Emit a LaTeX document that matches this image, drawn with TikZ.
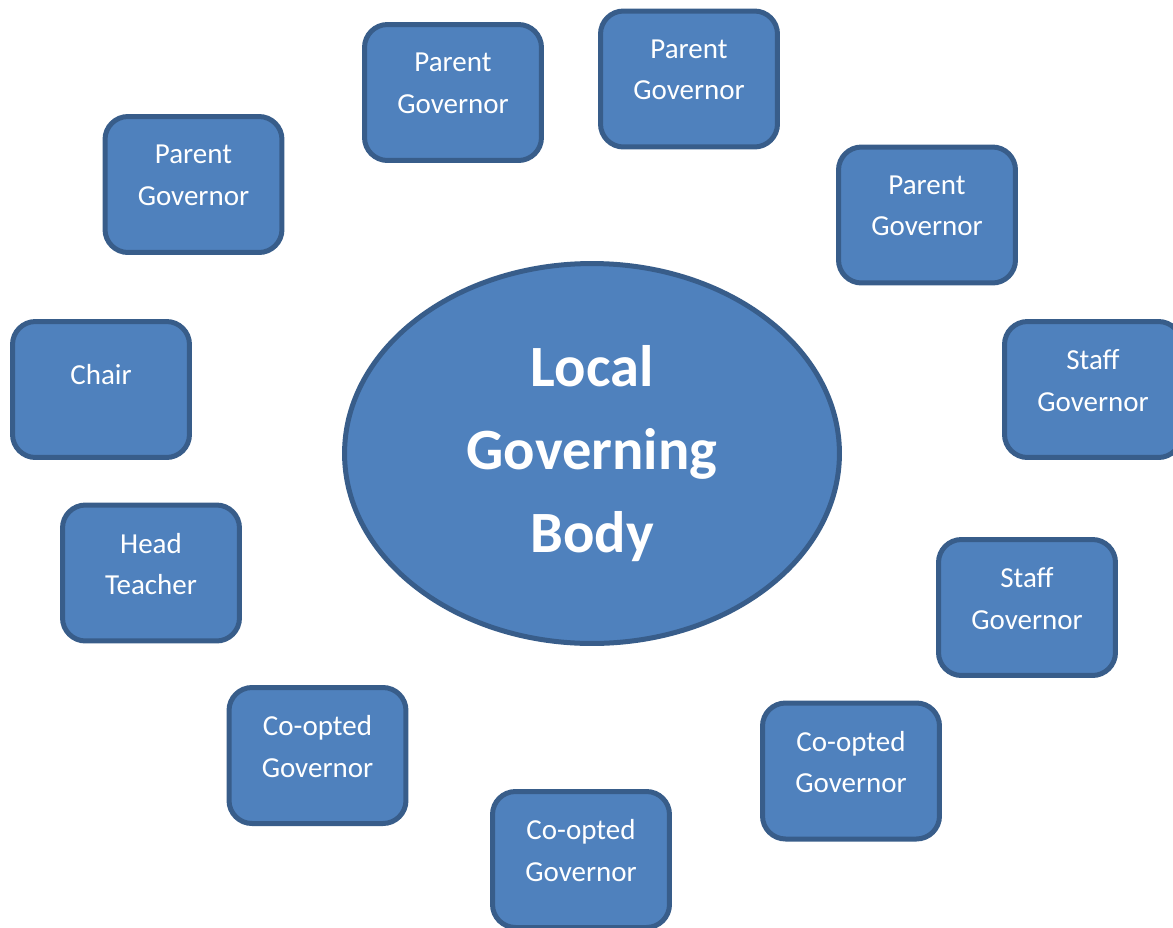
\documentclass[tikz,border=0pt]{standalone}
\usepackage{fontspec}
\setmainfont{Carlito}
\usetikzlibrary{shapes.geometric}
\definecolor{govfill}{HTML}{4F81BD}
\definecolor{govline}{HTML}{385D8A}

\begin{document}
\begin{tikzpicture}[x=0.02cm, y=-0.02cm,
    govbox/.style={draw=govline, fill=govfill, line width=0.1cm, rounded corners=0.46cm,
        minimum width=3.54cm, minimum height=2.72cm, inner sep=0pt},
    govtext/.style={text=white, align=center, inner sep=0pt,
        font=\fontsize{16.5}{23.6}\selectfont},
    lgb/.style={ellipse, draw=govline, fill=govfill, line width=0.1cm,
        minimum width=9.9cm, minimum height=7.6cm, inner sep=0pt,
        text=white, align=center, font=\fontsize{33.3}{47.4}\selectfont\bfseries}]

\useasboundingbox (0,0) rectangle (1173,927);

\node[lgb] (body) at (592,453.5) {Local\\Governing\\Body};

\foreach \x/\y/\d/\n/\t in {
    453/92.5/9/pga/{Parent\\Governor},
    689/79/9/pgb/{Parent\\Governor},
    193.5/184.5/9/pgc/{Parent\\Governor},
    927/215/9/pgd/{Parent\\Governor},
    101/389.5/14.5/chair/{Chair},
    1093/389.5/9/sga/{Staff\\Governor},
    151/573/9/head/{Head\\Teacher},
    1027/607.5/9/sgb/{Staff\\Governor},
    317.5/755.5/9/coa/{Co-opted\\Governor},
    851/771/9/cob/{Co-opted\\Governor},
    581/859.5/9/coc/{Co-opted\\Governor}} {
    \node[govbox] (\n) at (\x,\y) {};
    \node[govtext] (\n-t) at (\x,\y-\d) {\t};
}

\end{tikzpicture}
\end{document}
